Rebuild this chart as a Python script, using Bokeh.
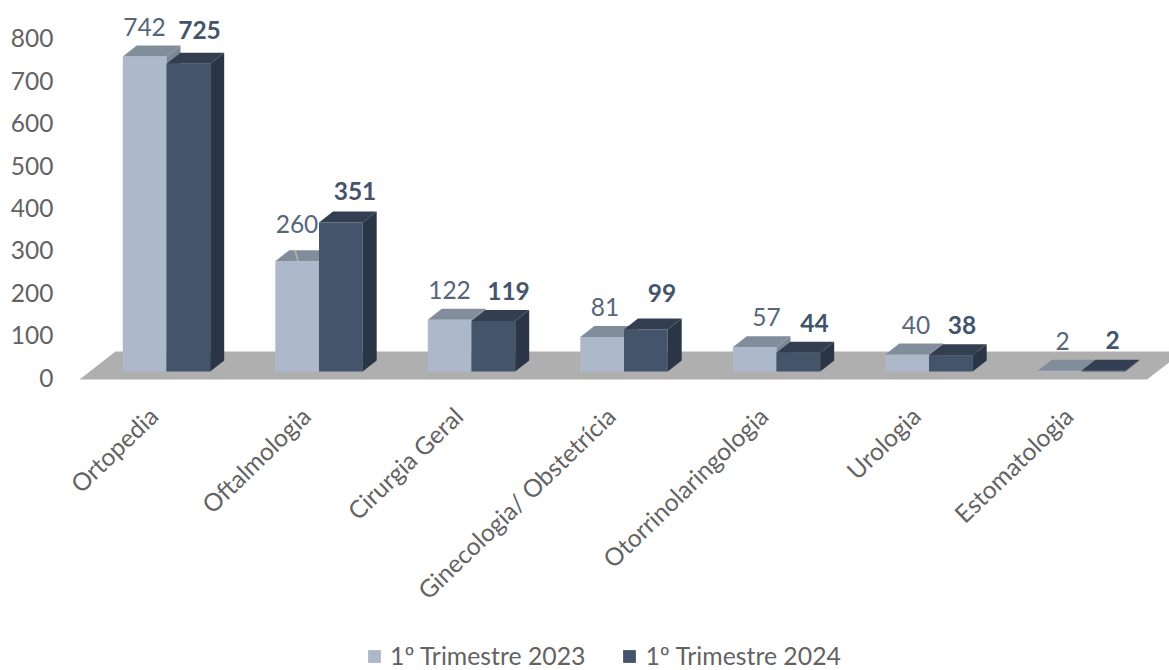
from bokeh.embed import file_html
from bokeh.resources import INLINE
from bokeh.plotting import figure
from bokeh.models import (ColumnDataSource, LinearAxis, Range1d, FixedTicker, Legend, LegendItem)
from bokeh.core.properties import value
from math import radians

categories = ["Ortopedia", "Oftalmologia", "Cirurgia Geral", "Ginecologia/ Obstetrícia",
              "Otorrinolaringologia", "Urologia", "Estomatologia"]
series_2023 = [742, 260, 122, 81, 57, 40, 2]
series_2024 = [725, 351, 119, 99, 44, 38, 2]
series_names = ["1º Trimestre 2023", "1º Trimestre 2024"]
y_ticks = [0, 100, 200, 300, 400, 500, 600, 700, 800]

# Layout (pixels in the picture)
FONT = "Lato"
GROUP_PX, VAL_PX = 152.5, 0.4245
X0_PAGE, Y0_PAGE = 166, 371
LEFT, RIGHT, TOP, BOTTOM = 60, 1169, 0, 670
DEPTH_X, DEPTH_Y = 14 / GROUP_PX, 11 / VAL_PX
HALF = 43.7 / GROUP_PX

p = figure(width=1169, height=670, output_backend="svg", toolbar_location=None,
           x_range=Range1d((LEFT - X0_PAGE) / GROUP_PX, (RIGHT - X0_PAGE) / GROUP_PX),
           y_range=Range1d((Y0_PAGE - BOTTOM) / VAL_PX, (Y0_PAGE - TOP) / VAL_PX),
           x_axis_type=None, y_axis_type=None, outline_line_color=None,
           min_border_left=LEFT, min_border_right=0, min_border_top=0, min_border_bottom=0)
p.grid.visible = False

# floor
n = len(categories)
fl = -87 / GROUP_PX
fy0, fy1 = -8 / VAL_PX, 20 / VAL_PX
fd = 36 / GROUP_PX
p.patch([fl, fl + n, fl + n + fd, fl + fd], [fy0, fy0, fy1, fy1], fill_color="#AFAFAF", line_color=None)


def bar3d(vals, shift, front, top, side):
    xs0 = [i + shift for i in range(n)]
    xs1 = [x + HALF for x in xs0]
    r = p.quad(left=xs0, right=xs1, bottom=[0] * n, top=vals, fill_color=front, line_color=None)
    p.patches([[a, b, b + DEPTH_X, a + DEPTH_X] for a, b in zip(xs0, xs1)],
              [[v, v, v + DEPTH_Y, v + DEPTH_Y] for v in vals], fill_color=top, line_color=None)
    p.patches([[b, b + DEPTH_X, b + DEPTH_X, b] for b in xs1],
              [[0, DEPTH_Y, v + DEPTH_Y, v] for v in vals], fill_color=side, line_color=None)
    return r


r1 = bar3d(series_2023, -HALF, "#ADB9CA", "#828D9B", "#7D8896")
r2 = bar3d(series_2024, 0, "#44546A", "#333F50", "#2A3645")

# leader line of the 260 label
p.segment([1 - 24 / GROUP_PX], [series_2023[1] + 11 / VAL_PX], [1 - 21 / GROUP_PX], [series_2023[1]],
          line_color="#B5B5AC", line_width=1.5)

# data labels
dx1 = [-22, -22, -22, -19, -10, -13, -19]
dy1 = [30, 37, 30, 30, 30, 30, 30]
dx2 = [33, 36, 37, 38, 38, 33, 31]
dy2 = [34, 32, 30, 36, 30, 30, 31]
for vals, dxs, dys, weight, col in [(series_2023, dx1, dy1, "normal", "#56667C"),
                                    (series_2024, dx2, dy2, "bold", "#44546A")]:
    src = ColumnDataSource(dict(x=list(range(n)), y=vals, t=[str(v) for v in vals],
                                dx=dxs, dy=[-d for d in dys]))
    p.text(x="x", y="y", text="t", x_offset="dx", y_offset="dy", source=src, text_align="center",
           text_baseline="middle", text_color=col, text_font=value(FONT),
           text_font_size="24.5px", text_font_style=weight)

# value axis, labels set lower than the bars as in a 3D chart
p.extra_y_ranges["ticks"] = Range1d((377 - BOTTOM) / 0.424, (377 - TOP) / 0.424)
ya = LinearAxis(y_range_name="ticks", ticker=FixedTicker(ticks=y_ticks))
ya.axis_line_color = None
ya.major_tick_line_color = None
ya.minor_tick_line_color = None
ya.major_label_standoff = 1
ya.major_label_text_font = FONT
ya.major_label_text_font_size = "24.5px"
ya.major_label_text_color = "#636363"
p.add_layout(ya, "left")

# category labels, slanted, ending under each group
p.text(x=list(range(n)), y=[0] * n, text=categories, x_offset=-13, y_offset=40, angle=radians(44),
       text_align="right", text_baseline="middle", text_color="#636363", text_font=value(FONT),
       text_font_size="24.6px")

legend = Legend(items=[LegendItem(label=series_names[0], renderers=[r1]),
                       LegendItem(label=series_names[1], renderers=[r2])],
                orientation="horizontal", location=(306, 0), glyph_width=16, glyph_height=16,
                label_standoff=8, spacing=36, padding=0, margin=0, border_line_color=None,
                background_fill_color=None, label_text_font=FONT, label_text_font_size="24.8px",
                label_text_color="#636363")
p.add_layout(legend, "center")

open("out.html", "w").write(file_html(p, INLINE))
